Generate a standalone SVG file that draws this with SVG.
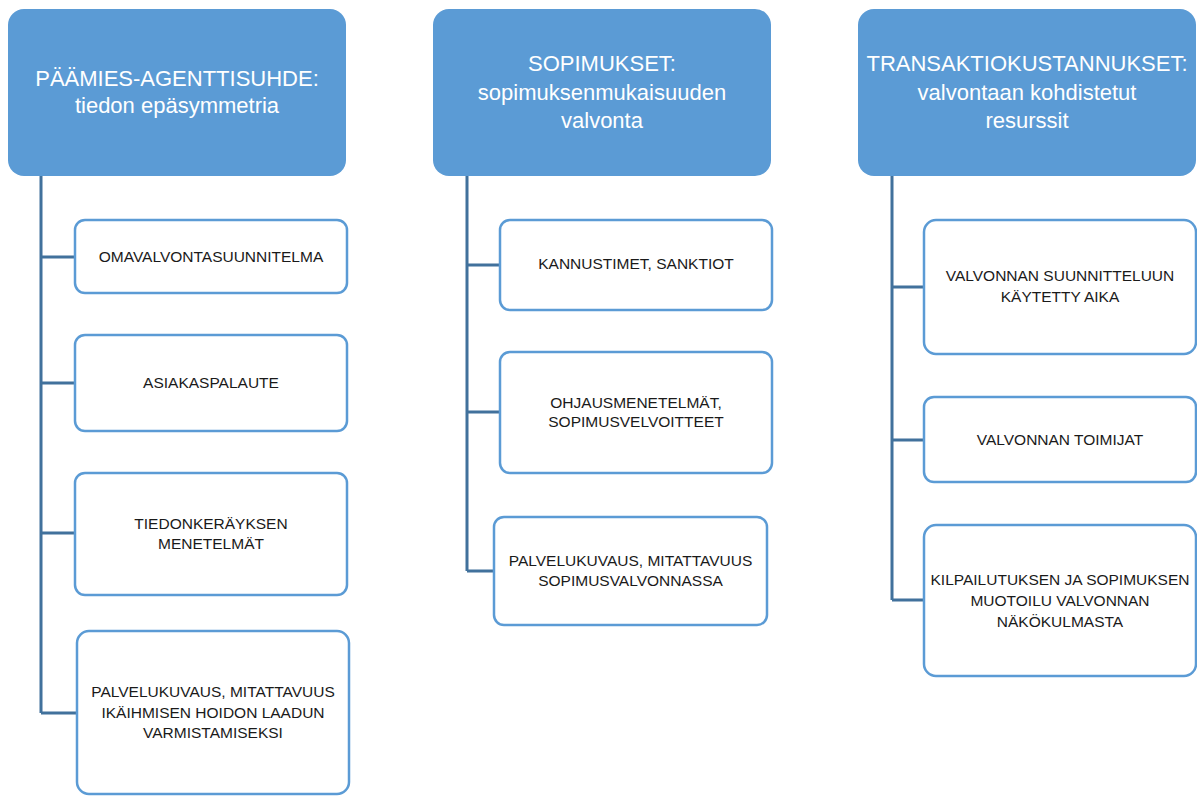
<svg xmlns="http://www.w3.org/2000/svg" width="1197" height="796" viewBox="0 0 1197 796">
<style>
.hdr{fill:#5B9BD5;}
.ht{fill:#FFFFFF;font-family:"Liberation Sans",Arial,sans-serif;font-size:22px;text-anchor:middle;}
.box{fill:#FFFFFF;stroke:#5B9BD5;stroke-width:2.5;}
.bt{fill:#1a1a1a;font-family:"Liberation Sans",Arial,sans-serif;font-size:15.5px;text-anchor:middle;}
.conn{fill:none;stroke:#41719C;stroke-width:3;}
</style>
<rect width="1197" height="796" fill="#FFFFFF"/>
<g id="connectors">
<path class="conn" d="M41,176 V713 M41,257 H75 M41,383 H75 M41,533 H75 M41,713 H77"/>
<path class="conn" d="M467,176 V571 M467,265 H500 M467,412 H500 M467,571 H494"/>
<path class="conn" d="M892,176 V600 M892,287 H924 M892,440 H924 M892,600 H924"/>
</g>
<g id="h1">
<rect class="hdr" x="8" y="9" width="338" height="167" rx="16"/>
<text class="ht" x="177" y="86">PÄÄMIES-AGENTTISUHDE:</text>
<text class="ht" x="177" y="113">tiedon epäsymmetria</text>
</g>
<g id="h2">
<rect class="hdr" x="433" y="9" width="338" height="167" rx="16"/>
<text class="ht" x="602" y="71">SOPIMUKSET:</text>
<text class="ht" x="602" y="99.5">sopimuksenmukaisuuden</text>
<text class="ht" x="602" y="128">valvonta</text>
</g>
<g id="h3">
<rect class="hdr" x="858" y="9" width="338" height="167" rx="16"/>
<text class="ht" x="1027" y="71">TRANSAKTIOKUSTANNUKSET:</text>
<text class="ht" x="1027" y="99.5">valvontaan kohdistetut</text>
<text class="ht" x="1027" y="128">resurssit</text>
</g>
<g id="c1b1">
<rect class="box" x="75" y="220" width="272" height="73" rx="10"/>
<text class="bt" x="211" y="262">OMAVALVONTASUUNNITELMA</text>
</g>
<g id="c1b2">
<rect class="box" x="75" y="335" width="272" height="96" rx="10"/>
<text class="bt" x="211" y="388">ASIAKASPALAUTE</text>
</g>
<g id="c1b3">
<rect class="box" x="75" y="473" width="272" height="122" rx="10"/>
<text class="bt" x="211" y="529">TIEDONKERÄYKSEN</text>
<text class="bt" x="211" y="549">MENETELMÄT</text>
</g>
<g id="c1b4">
<rect class="box" x="77" y="631" width="272" height="163" rx="12"/>
<text class="bt" x="213" y="697">PALVELUKUVAUS, MITATTAVUUS</text>
<text class="bt" x="213" y="718">IKÄIHMISEN HOIDON LAADUN</text>
<text class="bt" x="213" y="738">VARMISTAMISEKSI</text>
</g>
<g id="c2b1">
<rect class="box" x="500" y="220" width="272" height="90" rx="10"/>
<text class="bt" x="636" y="269">KANNUSTIMET, SANKTIOT</text>
</g>
<g id="c2b2">
<rect class="box" x="500" y="352" width="272" height="121" rx="10"/>
<text class="bt" x="636" y="408">OHJAUSMENETELMÄT,</text>
<text class="bt" x="636" y="427">SOPIMUSVELVOITTEET</text>
</g>
<g id="c2b3">
<rect class="box" x="494" y="517" width="273" height="108" rx="10"/>
<text class="bt" x="630.5" y="566">PALVELUKUVAUS, MITATTAVUUS</text>
<text class="bt" x="630.5" y="586">SOPIMUSVALVONNASSA</text>
</g>
<g id="c3b1">
<rect class="box" x="924" y="220" width="272" height="134" rx="12"/>
<text class="bt" x="1060" y="281">VALVONNAN SUUNNITTELUUN</text>
<text class="bt" x="1060" y="302">KÄYTETTY AIKA</text>
</g>
<g id="c3b2">
<rect class="box" x="924" y="397" width="272" height="85" rx="10"/>
<text class="bt" x="1060" y="445">VALVONNAN TOIMIJAT</text>
</g>
<g id="c3b3">
<rect class="box" x="924" y="525" width="272" height="151" rx="12"/>
<text class="bt" x="1060" y="585">KILPAILUTUKSEN JA SOPIMUKSEN</text>
<text class="bt" x="1060" y="606">MUOTOILU VALVONNAN</text>
<text class="bt" x="1060" y="627">NÄKÖKULMASTA</text>
</g>
</svg>
